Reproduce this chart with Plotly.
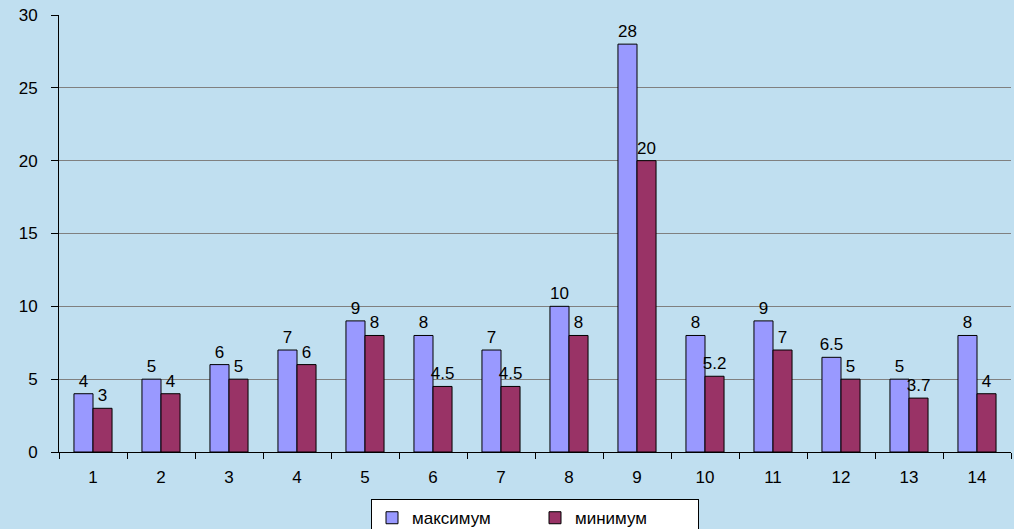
import plotly.graph_objects as go

categories = [str(i) for i in range(1, 15)]
max_vals = [4, 5, 6, 7, 9, 8, 7, 10, 28, 8, 9, 6.5, 5, 8]
min_vals = [3, 4, 5, 6, 8, 4.5, 4.5, 8, 20, 5.2, 7, 5, 3.7, 4]
max_labels = ["4", "5", "6", "7", "9", "8", "7", "10", "28", "8", "9", "6.5", "5", "8"]
min_labels = ["3", "4", "5", "6", "8", "4.5", "4.5", "8", "20", "5.2", "7", "5", "3.7", "4"]
y_ticks = [0, 5, 10, 15, 20, 25, 30]

BG = "#C0DFF0"
FONT = "Liberation Sans, Arial, sans-serif"

fig = go.Figure()
fig.add_trace(go.Bar(
    x=categories, y=max_vals, name="максимум",
    marker=dict(color="#9999FF", line=dict(color="#000000", width=1)),
    text=max_labels, textposition="outside", constraintext="none",
    cliponaxis=False, textfont=dict(size=17, color="#000000", family=FONT),
))
fig.add_trace(go.Bar(
    x=categories, y=min_vals, name="минимум",
    marker=dict(color="#993366", line=dict(color="#000000", width=1)),
    text=min_labels, textposition="outside", constraintext="none",
    cliponaxis=False, textfont=dict(size=17, color="#000000", family=FONT),
))

fig.update_layout(
    width=1014, height=529,
    margin=dict(l=59, r=3, t=15, b=77, autoexpand=False),
    paper_bgcolor=BG, plot_bgcolor=BG,
    barmode="group", bargap=0.44, bargroupgap=0,
    font=dict(family=FONT, size=17, color="#000000"),
    showlegend=True,
    legend=dict(
        orientation="h", x=0.5, xanchor="center", y=-0.108, yanchor="top",
        bgcolor="#FFFFFF", bordercolor="#000000", borderwidth=1,
        font=dict(size=17, family=FONT), itemwidth=30,
        entrywidth=118, tracegroupgap=0,
    ),
    xaxis=dict(
        type="category", showline=True, linecolor="#000000", linewidth=1,
        ticks="outside", tickson="boundaries", ticklen=6, tickcolor="#000000",
        showgrid=False, tickfont=dict(size=17), ticklabelstandoff=10,
    ),
    yaxis=dict(
        range=[0, 30], tickvals=y_ticks, showline=True, linecolor="#000000",
        linewidth=1, ticks="outside", ticklen=7, tickcolor="#000000",
        showgrid=True, gridcolor="#808080", gridwidth=1, zeroline=False,
        tickfont=dict(size=17), ticklabelstandoff=10,
    ),
)

fig.write_html("out.html")
